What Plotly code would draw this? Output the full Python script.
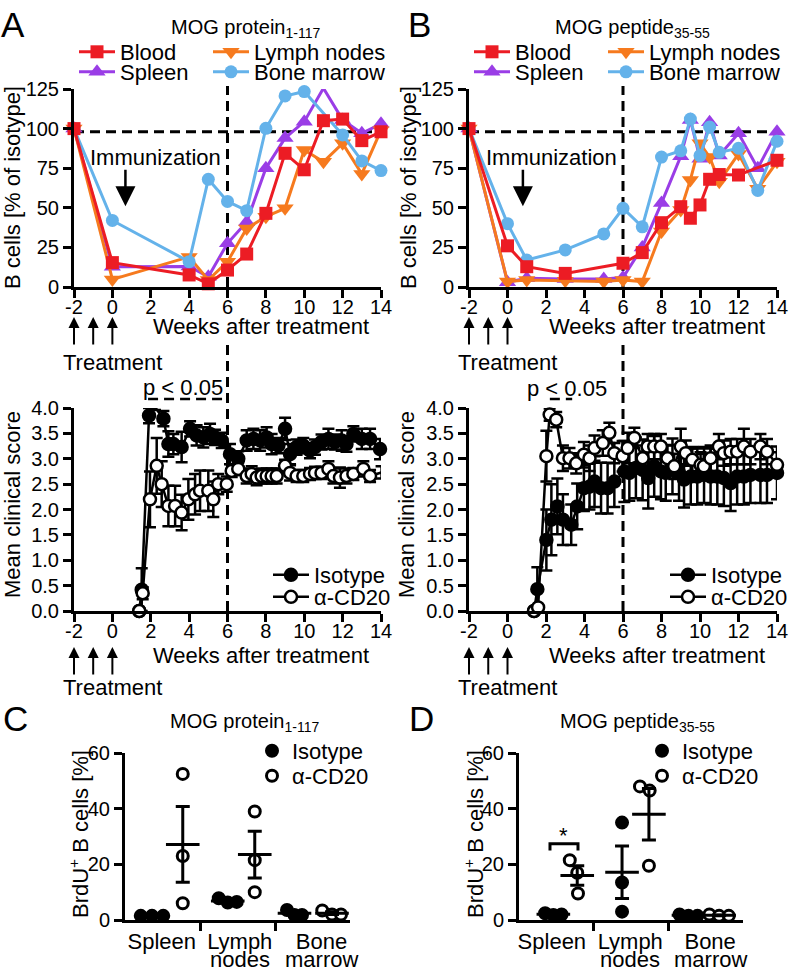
import numpy as np
import plotly.graph_objects as go

W, H = 793, 972
FONT = "Liberation Sans, Arial, sans-serif"
FS = 22      # labels, legends
FT = 20      # tick labels and panel titles

# ---------------- data: B-cell kinetics, % of isotype ----------------
A_WEEKS = [-2, 0, 4, 5, 6, 7, 8, 9, 10, 11, 12, 13, 14]
A_BLOOD = [100, 15.4, 7.6, 2, 10.7, 20.8, 46.5, 84.4, 74, 105, 106, 92.4, 98]
A_SPLEEN = [100, 12.8, 13, 6.5, 27.6, 41, 75, 94, 104.4, 125.5, 105.5, 97, 103]
A_LYMPH = [100, 4.8, 19, 4.4, 16, 37, 44.4, 49.7, 86.5, 79, 90.7, 71.4, 99]
A_BONE_WEEKS = [-2, 0, 4, 5, 6, 7, 8, 9, 10, 12, 13, 14]
A_BONE = [100, 42, 16, 68, 54, 48.2, 100.2, 120.6, 123.4, 96, 79.6, 73.5]

B_WEEKS = [-2, 0, 1, 3, 5, 6, 7, 8, 9, 9.5, 10, 10.5, 11, 12, 13, 14]
B_BLOOD_WEEKS = [-2, 0, 1, 3, 6, 7, 8, 9, 9.5, 10, 10.5, 11, 12, 14]
B_BLOOD = [100, 26, 12.8, 8.6, 15, 21.7, 40.6, 50.7, 43.4, 51.8, 68, 71, 70.7, 80]
B_SPLEEN = [100, 3, 5.5, 5, 5, 6, 25, 53, 82.5, 105.5, 81, 104, 83, 97, 75, 98]
B_LYMPH = [100, 3.4, 4.4, 4, 3.4, 4.4, 3.4, 35, 48.6, 67.6, 90.7, 82, 66.5, 84, 62, 79]
B_BONE = [100, 40, 17, 23.4, 33.5, 49.7, 38, 82, 86, 106, 83, 101, 85, 87.6, 61, 92]

ISOTYPE_LEVEL = 98
TREATMENT_WEEKS = [-2, -1, 0]
WEEK_TICKS = list(range(-2, 15, 2))

# ---------------- data: mean clinical score ----------------
CA_ISO_T = [1.40, 1.53, 1.91, 2.22, 2.66, 2.92, 3.18, 3.61, 4.05, 4.39, 4.74, 5.09, 5.35,
            5.70, 6.13, 6.56, 7.00, 7.35, 7.70, 8.04, 8.30, 8.65, 9.00, 9.26, 9.60, 9.95,
            10.30, 10.56, 10.90, 11.26, 11.60, 11.95, 12.20, 12.56, 13.00, 13.43, 13.95]
CA_ISO = [0.0, 0.42, 3.85, 4.02, 3.79, 3.29, 3.29, 3.23, 3.59, 3.46, 3.42, 3.49, 3.42,
          3.36, 3.09, 3.00, 3.36, 3.39, 3.36, 3.42, 3.29, 3.26, 3.59, 3.09, 3.23, 3.26,
          3.16, 3.23, 3.33, 3.39, 3.33, 3.36, 3.29, 3.49, 3.39, 3.39, 3.19]
CA_ISO_SEM = [0, 0.42, 0.15, 0.06, 0.15, 0.25, 0.2, 0.3, 0.15, 0.2, 0.2, 0.2, 0.15,
              0.15, 0.2, 0.15, 0.2, 0.2, 0.2, 0.2, 0.2, 0.15, 0.22, 0.2, 0.15, 0.15,
              0.15, 0.15, 0.15, 0.2, 0.15, 0.2, 0.15, 0.15, 0.2, 0.2, 0.2]

CA_CD20_T = [1.40, 1.58, 1.96, 2.31, 2.57, 2.92, 3.27, 3.61, 3.96, 4.31, 4.57, 5.00, 5.26,
             5.52, 5.96, 6.22, 6.56, 7.00, 7.26, 7.52, 7.78, 8.04, 8.30, 8.56, 9.00, 9.26,
             9.60, 9.95, 10.30, 10.56, 10.90, 11.26, 11.52, 11.86, 12.20, 12.56, 13.08,
             13.43, 14.03]
CA_CD20 = [0.0, 0.35, 2.20, 2.86, 2.50, 2.07, 2.07, 1.94, 2.20, 2.30, 2.37, 2.37, 2.20,
           2.50, 2.50, 2.76, 2.80, 2.66, 2.70, 2.63, 2.66, 2.66, 2.66, 2.66, 2.86, 2.72,
           2.66, 2.66, 2.70, 2.72, 2.72, 2.80, 2.66, 2.63, 2.66, 2.70, 2.80, 2.66, 2.73]
CA_CD20_SEM = [0, 0.12, 0.55, 0.55, 0.45, 0.4, 0.4, 0.35, 0.4, 0.4, 0.4, 0.4, 0.35,
               0.2, 0.15, 0.12, 0.12, 0.15, 0.15, 0.15, 0.15, 0.15, 0.15, 0.15, 0.12, 0.15,
               0.12, 0.12, 0.12, 0.12, 0.12, 0.15, 0.15, 0.2, 0.15, 0.12, 0.15, 0.12, 0.12]

CB_ISO_T = [1.38, 1.55, 2.02, 2.28, 2.59, 2.88, 3.31, 3.62, 3.97, 4.26, 4.52, 4.86, 5.20,
            5.55, 6.07, 6.33, 6.67, 7.02, 7.31, 7.62, 7.97, 8.22, 8.57, 8.91, 9.17, 9.52,
            9.86, 10.21, 10.55, 10.90, 11.24, 11.59, 11.93, 12.28, 12.62, 13.14, 13.48, 14.00]
CB_ISO = [0.0, 0.43, 1.40, 1.80, 2.06, 1.80, 1.70, 2.06, 2.42, 2.45, 2.55, 2.42, 2.42,
          2.55, 2.75, 2.72, 2.82, 2.78, 2.62, 2.85, 2.75, 2.72, 2.85, 2.72, 2.59, 2.65,
          2.65, 2.68, 2.65, 2.65, 2.62, 2.52, 2.65, 2.65, 2.68, 2.68, 2.68, 2.72]
CB_ISO_SEM = [0, 0.43, 0.6, 0.7, 0.55, 0.5, 0.4, 0.45, 0.45, 0.45, 0.5, 0.5, 0.5,
              0.5, 0.6, 0.55, 0.6, 0.6, 0.6, 0.6, 0.55, 0.55, 0.55, 0.55, 0.55, 0.55,
              0.55, 0.55, 0.55, 0.55, 0.55, 0.55, 0.55, 0.55, 0.55, 0.55, 0.55, 0.52]

CB_CD20_T = [1.38, 1.59, 2.02, 2.19, 2.53, 2.88, 3.22, 3.57, 3.97, 4.26, 4.52, 4.95, 5.29,
             5.55, 5.98, 6.24, 6.59, 7.02, 7.28, 7.62, 7.97, 8.31, 8.66, 9.00, 9.26, 9.60,
             10.03, 10.20, 10.55, 10.98, 11.24, 11.59, 11.93, 12.28, 12.62, 13.14, 13.48, 14.00]
CB_CD20 = [0.0, 0.07, 3.05, 3.87, 3.77, 3.01, 3.01, 2.91, 3.08, 3.01, 3.21, 3.31, 3.51,
           3.11, 3.05, 3.21, 3.41, 3.01, 3.24, 3.24, 3.24, 3.01, 2.85, 3.24, 3.11, 2.98,
           2.88, 2.85, 3.01, 3.24, 3.11, 3.14, 3.14, 3.24, 3.14, 3.24, 3.14, 2.88]
CB_CD20_SEM = [0, 0.05, 0.5, 0.12, 0.15, 0.25, 0.2, 0.2, 0.25, 0.25, 0.25, 0.25, 0.2,
               0.2, 0.3, 0.3, 0.2, 0.25, 0.25, 0.25, 0.25, 0.25, 0.25, 0.35, 0.25, 0.25,
               0.25, 0.25, 0.25, 0.25, 0.25, 0.25, 0.25, 0.35, 0.25, 0.25, 0.25, 0.25]

# ---------------- data: BrdU+ B cells [%] ----------------
ORGANS = ["Spleen", "Lymph", "Bone"]
ORGANS_2ND = ["", "nodes", "marrow"]
C_ISO = [[1.5, 1.5, 1.5], [7.8, 6.3, 6.5], [3.6, 1.8, 1.8]]
C_CD20 = [[52.5, 23.0, 6.0], [39.0, 21.5, 10.0], [3.4, 2.0, 2.0]]
D_ISO = [[2.4, 1.8, 2.0], [35.0, 13.5, 3.0], [2.0, 1.5, 1.5]]
D_CD20 = [[21.5, 17.0, 9.5], [48.0, 46.5, 19.5], [2.0, 1.5, 1.5]]

# horizontal placement of the dots inside each organ group (x units, group width 1)
C_ISO_X = [[0.21, 0.36, 0.51], [1.25, 1.37, 1.49], [2.16, 2.26, 2.36]]
C_CD20_X = [[0.77, 0.77, 0.77], [1.73, 1.73, 1.73], [2.63, 2.76, 2.88]]
D_ISO_X = [[0.35, 0.46, 0.57], [1.38, 1.38, 1.38], [2.15, 2.27, 2.39]]
D_CD20_X = [[0.68, 0.78, 0.79], [1.62, 1.75, 1.74], [2.55, 2.68, 2.81]]
C_LABEL_X = [0.49, 1.53, 2.62]
D_LABEL_X = [0.44, 1.49, 2.56]

# ---------------- styling ----------------
RED = "#EC1C24"
PURPLE = "#9A3DE6"
ORANGE = "#F67A1E"
BLUE = "#64B2EA"


def px(x):
    return x / W


def py(y):
    return 1 - y / H


fig = go.Figure()


def kinetics(weeks, vals, name, color, symbol, size, xa, ya, legend):
    fig.add_trace(go.Scatter(
        x=weeks, y=vals, name=name, mode="lines+markers",
        line=dict(color=color, width=3),
        marker=dict(symbol=symbol, size=size, color=color),
        xaxis=xa, yaxis=ya, legend=legend, cliponaxis=False))


# panel A top
kinetics(A_WEEKS, A_SPLEEN, "Spleen", PURPLE, "triangle-up", 15, "x", "y", "legend2")
kinetics(A_WEEKS, A_LYMPH, "Lymph nodes", ORANGE, "triangle-down", 15, "x", "y", "legend3")
kinetics(A_BONE_WEEKS, A_BONE, "Bone marrow", BLUE, "circle", 13, "x", "y", "legend4")
kinetics(A_WEEKS, A_BLOOD, "Blood", RED, "square", 13, "x", "y", "legend")
# panel B top
kinetics(B_WEEKS, B_SPLEEN, "Spleen", PURPLE, "triangle-up", 15, "x2", "y2", "legend6")
kinetics(B_WEEKS, B_LYMPH, "Lymph nodes", ORANGE, "triangle-down", 15, "x2", "y2", "legend7")
kinetics(B_WEEKS, B_BONE, "Bone marrow", BLUE, "circle", 13, "x2", "y2", "legend8")
kinetics(B_BLOOD_WEEKS, B_BLOOD, "Blood", RED, "square", 13, "x2", "y2", "legend5")


def clinical(t, vals, sem, name, filled, xa, ya, legend):
    fig.add_trace(go.Scatter(
        x=t, y=vals, name=name, mode="lines+markers",
        line=dict(color="black", width=2.5),
        marker=dict(symbol="circle", size=12,
                    color="black" if filled else "white",
                    line=dict(color="black", width=2.5)),
        error_y=dict(type="data", array=sem, color="black", thickness=2.5, width=6),
        xaxis=xa, yaxis=ya, legend=legend, cliponaxis=False))


clinical(CA_ISO_T, CA_ISO, CA_ISO_SEM, "Isotype", True, "x3", "y3", "legend9")
clinical(CA_CD20_T, CA_CD20, CA_CD20_SEM, "α-CD20", False, "x3", "y3", "legend10")
clinical(CB_ISO_T, CB_ISO, CB_ISO_SEM, "Isotype", True, "x4", "y4", "legend11")
clinical(CB_CD20_T, CB_CD20, CB_CD20_SEM, "α-CD20", False, "x4", "y4", "legend12")


def brdu(groups, xpos, name, filled, xa, ya, legend):
    xs = [x for g in xpos for x in g]
    ys = [v for g in groups for v in g]
    fig.add_trace(go.Scatter(
        x=xs, y=ys, name=name, mode="markers",
        marker=dict(symbol="circle", size=11,
                    color="black" if filled else "white",
                    line=dict(color="black", width=3)),
        xaxis=xa, yaxis=ya, legend=legend, cliponaxis=False))
    means = [float(np.mean(g)) for g in groups]
    sems = [float(np.std(g, ddof=1) / np.sqrt(len(g))) for g in groups]
    centers = [float(np.median(g)) for g in xpos]
    fig.add_trace(go.Scatter(
        x=centers, y=means, mode="markers", showlegend=False,
        marker=dict(symbol="line-ew", size=24, color="black",
                    line=dict(color="black", width=3)),
        error_y=dict(type="data", array=sems, color="black", thickness=3, width=7),
        xaxis=xa, yaxis=ya, cliponaxis=False))


brdu(C_ISO, C_ISO_X, "Isotype", True, "x5", "y5", "legend13")
brdu(C_CD20, C_CD20_X, "α-CD20", False, "x5", "y5", "legend14")
brdu(D_ISO, D_ISO_X, "Isotype", True, "x6", "y6", "legend15")
brdu(D_CD20, D_CD20_X, "α-CD20", False, "x6", "y6", "legend16")

# ---------------- axes ----------------
def axis(**kw):
    base = dict(showline=True, linecolor="black", linewidth=3, ticks="outside",
                ticklen=8, tickwidth=3, tickcolor="black", showgrid=False,
                zeroline=False, tickfont=dict(size=FT, color="black", family=FONT))
    base.update(kw)
    return base


A_X = [px(74), px(381)]
B_X = [px(469), px(777)]
TOP_Y = [py(287), py(89)]
BOT_Y = [py(611), py(408)]
C_X = [px(125), px(350)]
D_X = [px(519), px(743)]
CD_Y = [py(920), py(753)]

week_ax = dict(range=[-2, 14], tickvals=WEEK_TICKS, ticktext=[str(t) for t in WEEK_TICKS],
               ticklabelstandoff=-8)
cat_ax = dict(range=[0, 3], tickvals=C_LABEL_X, ticktext=ORGANS, ticklen=0,
              tickfont=dict(size=FS, color="black", family=FONT),
              minor=dict(tickvals=[1, 2], ticks="outside", ticklen=8, tickwidth=3,
                         tickcolor="black"))
cat_ax_d = dict(cat_ax, tickvals=D_LABEL_X)

fig.update_layout(
    xaxis=axis(domain=A_X, anchor="y", **week_ax),
    yaxis=axis(domain=TOP_Y, anchor="x", range=[0, 125], tickvals=[0, 25, 50, 75, 100, 125]),
    xaxis2=axis(domain=B_X, anchor="y2", **week_ax),
    yaxis2=axis(domain=TOP_Y, anchor="x2", range=[0, 125], tickvals=[0, 25, 50, 75, 100, 125]),
    xaxis3=axis(domain=A_X, anchor="y3", **week_ax),
    yaxis3=axis(domain=BOT_Y, anchor="x3", range=[0, 4], dtick=0.5, tickformat=".1f"),
    xaxis4=axis(domain=B_X, anchor="y4", **week_ax),
    yaxis4=axis(domain=BOT_Y, anchor="x4", range=[0, 4], dtick=0.5, tickformat=".1f"),
    xaxis5=axis(domain=C_X, anchor="y5", **cat_ax),
    yaxis5=axis(domain=CD_Y, anchor="x5", range=[0, 60], tickvals=[0, 20, 40, 60]),
    xaxis6=axis(domain=D_X, anchor="y6", **cat_ax_d),
    yaxis6=axis(domain=CD_Y, anchor="x6", range=[0, 60], tickvals=[0, 20, 40, 60]),
)

# ---------------- legends (one entry each, laid out like the original) ----------------
def leg(xline, yrow, itemwidth=36):
    return dict(x=px(xline - 5), y=py(yrow), xanchor="left", yanchor="middle",
                bgcolor="rgba(0,0,0,0)", borderwidth=0, itemwidth=itemwidth,
                font=dict(size=FS, color="black", family=FONT))


fig.update_layout(
    legend=leg(79, 52), legend2=leg(79, 72), legend3=leg(213, 52), legend4=leg(213, 72),
    legend5=leg(474, 52), legend6=leg(474, 72), legend7=leg(608, 52), legend8=leg(608, 72),
    legend9=leg(273, 575), legend10=leg(273, 597),
    legend11=leg(670, 575), legend12=leg(670, 597),
    legend13=leg(257, 751, 30), legend14=leg(257, 776, 30),
    legend15=leg(647, 751, 30), legend16=leg(647, 776, 30),
)

# ---------------- annotations ----------------
ann = []


def text(x, y, s, size=FS, **kw):
    ann.append(dict(x=px(x), y=py(y), xref="paper", yref="paper", text=s, showarrow=False,
                    font=dict(size=size, color="black", family=FONT),
                    xanchor="center", yanchor="middle", **kw))


for letter, (x, y) in zip("ABCD", [(13, 24), (419, 24), (15, 718), (421, 718)]):
    text(x, y, letter, size=35)

text(246, 29, "MOG protein<sub>1-117</sub>", size=FT)
text(632, 29, "MOG peptide<sub>35-55</sub>", size=FT)
text(244, 722, "MOG protein<sub>1-117</sub>", size=FT)
text(637, 722, "MOG peptide<sub>35-55</sub>", size=FT)

text(12, 188, "B cells [% of isotype]", textangle=-90)
text(408, 188, "B cells [% of isotype]", textangle=-90)
text(12, 505, "Mean clinical score", textangle=-90)
text(406, 505, "Mean clinical score", textangle=-90)
text(79, 834, "BrdU<sup>+</sup> B cells [%]", textangle=-90)
text(474, 834, "BrdU<sup>+</sup> B cells [%]", textangle=-90)

for cx in (261, 657):
    text(cx, 326, "Weeks after treatment")
    text(cx, 655, "Weeks after treatment")
for cx in (112, 507):
    text(cx, 362, "Treatment")
    text(cx, 687, "Treatment")

text(183, 387, "p < 0.05")
text(567, 388, "p < 0.05")

# second line of the organ labels
for xa, xs in (("x5", C_LABEL_X), ("x6", D_LABEL_X)):
    for xv, s in zip(xs, ORGANS_2ND):
        if s:
            ann.append(dict(x=xv, xref=xa, y=py(959), yref="paper", text=s,
                            showarrow=False, yanchor="middle",
                            font=dict(size=FS, color="black", family=FONT)))

# treatment arrows
for xa in ("x", "x2"):
    for tip in (317, 647):
        for w in TREATMENT_WEEKS:
            ann.append(dict(x=w, xref=xa, y=py(tip), yref="paper", ax=0, ay=29,
                            text="", showarrow=True, arrowhead=2, arrowsize=1.1,
                            arrowwidth=2, arrowcolor="black", standoff=0))

# immunization
for xa, ya, w in (("x", "y", 0.68), ("x2", "y2", 0.8)):
    ann.append(dict(x=w, y=51, xref=xa, yref=ya, ax=w, ay=75, axref=xa, ayref=ya,
                    text="", showarrow=True, arrowhead=2, arrowsize=1.6,
                    arrowwidth=2.5, arrowcolor="black", standoff=0))
    ann.append(dict(x=2.27, y=81.5, xref=xa, yref=ya, text="Immunization", showarrow=False,
                    font=dict(size=FS, color="black", family=FONT)))

# significance star in D
ann.append(dict(x=0.6, y=30.5, xref="x6", yref="y6", text="*", showarrow=False,
                font=dict(size=FS, color="black", family=FONT)))

fig.update_layout(annotations=ann)

# ---------------- dashed guide lines ----------------
DASH = "10px,6px"
shapes = []
for xa, ya in (("x", "y"), ("x2", "y2")):
    shapes.append(dict(type="line", xref=xa, yref=ya, x0=-2, x1=14,
                       y0=ISOTYPE_LEVEL, y1=ISOTYPE_LEVEL, layer="below",
                       line=dict(color="black", width=3, dash=DASH)))
for xa in ("x", "x2"):
    shapes.append(dict(type="line", xref=xa, yref="paper", x0=6, x1=6,
                       y0=py(287), y1=py(86), layer="below",
                       line=dict(color="black", width=3, dash=DASH)))
for xa in ("x3", "x4"):
    shapes.append(dict(type="line", xref=xa, yref="paper", x0=6, x1=6,
                       y0=py(611), y1=py(342), layer="below",
                       line=dict(color="black", width=3, dash=DASH)))
# p < 0.05 brackets
shapes.append(dict(type="line", xref="x3", yref="paper", x0=1.86, x1=6,
                   y0=py(399), y1=py(399), line=dict(color="black", width=2.5, dash=DASH)))
shapes.append(dict(type="line", xref="x4", yref="paper", x0=2.2, x1=3.36,
                   y0=py(399), y1=py(399), line=dict(color="black", width=2.5, dash=DASH)))
# asterisk bracket in D
shapes.append(dict(type="path", xref="x6", yref="y6",
                   path="M 0.415,25 L 0.415,27.4 L 0.79,27.4 L 0.79,25",
                   line=dict(color="black", width=3)))
fig.update_layout(shapes=shapes)

fig.update_layout(
    width=W, height=H, margin=dict(l=0, r=0, t=0, b=0, autoexpand=False),
    paper_bgcolor="white", plot_bgcolor="white",
    font=dict(family=FONT, size=FS, color="black"),
)

# the page body has a default 8px margin; drop it so the figure sits at the window corner
fig.write_html("out.html", config={"displayModeBar": False},
               post_script="document.body.style.margin='0';")
